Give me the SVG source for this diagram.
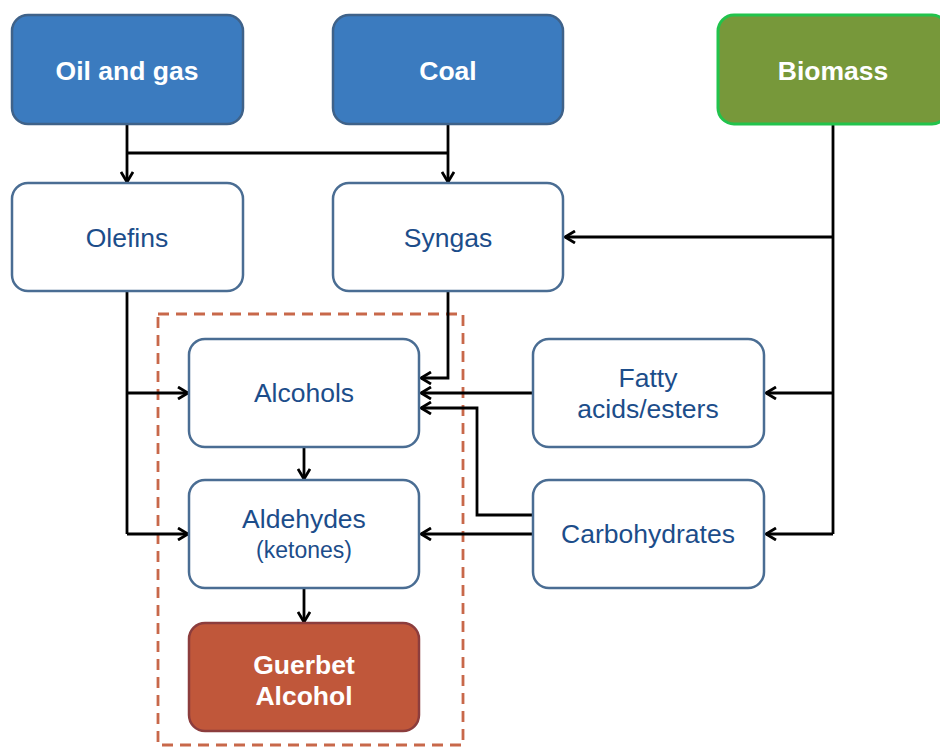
<svg xmlns="http://www.w3.org/2000/svg" width="940" height="749" viewBox="0 0 940 749">
<style>
.box{fill:#fff;stroke:#4a6d93;stroke-width:2.5}
.src{fill:#3b7bbf;stroke:#3f6289;stroke-width:2.5}
.bio{fill:#77983a;stroke:#22c34c;stroke-width:3}
.gue{fill:#c0573a;stroke:#8c3d3d;stroke-width:2.5}
.t{font-family:"Liberation Sans",Arial,sans-serif;font-size:26.5px;fill:#1c4d8a;text-anchor:middle}
.tb{font-family:"Liberation Sans",Arial,sans-serif;font-size:26.5px;font-weight:bold;fill:#fff;text-anchor:middle}
.ts{font-size:23px}
.c{fill:none;stroke:#000;stroke-width:2.8}
.a{marker-end:url(#arr)}
</style>
<defs>
<marker id="arr" viewBox="0 0 12 14" refX="11" refY="7" markerWidth="12" markerHeight="14" markerUnits="userSpaceOnUse" orient="auto">
<path d="M1,1 L11,7 L1,13" fill="none" stroke="#000" stroke-width="2.8"/>
</marker>
</defs>
<rect x="158" y="314" width="305" height="431" fill="none" stroke="#c8684a" stroke-width="2.8" stroke-dasharray="11,7"/>
<g id="connectors">
<path class="c a" d="M127,124 V182"/>
<path class="c" d="M127,153 H448"/>
<path class="c a" d="M448,124 V182"/>
<path class="c" d="M833,124 V534"/>
<path class="c a" d="M833,237 H565"/>
<path class="c a" d="M833,393 H766"/>
<path class="c a" d="M833,534 H766"/>
<path class="c" d="M127,291 V534"/>
<path class="c a" d="M127,393 H188"/>
<path class="c a" d="M127,534 H188"/>
<path class="c a" d="M448,291 V378 H421"/>
<path class="c a" d="M533,393 H421"/>
<path class="c a" d="M533,515 H477 V408 H421"/>
<path class="c a" d="M533,534 H421"/>
<path class="c a" d="M304,447 V479"/>
<path class="c a" d="M304,588 V622"/>
</g>
<g id="oil"><rect class="src" x="12" y="15" width="231" height="109" rx="16"/><text class="tb" x="127" y="80">Oil and gas</text></g>
<g id="coal"><rect class="src" x="333" y="15" width="230" height="109" rx="16"/><text class="tb" x="448" y="80">Coal</text></g>
<g id="biomass"><rect class="bio" x="718" y="15" width="230" height="109" rx="16"/><text class="tb" x="833" y="80">Biomass</text></g>
<g id="olefins"><rect class="box" x="12" y="183" width="231" height="108" rx="16"/><text class="t" x="127" y="247">Olefins</text></g>
<g id="syngas"><rect class="box" x="333" y="183" width="230" height="108" rx="16"/><text class="t" x="448" y="247">Syngas</text></g>
<g id="alcohols"><rect class="box" x="189" y="339" width="230" height="108" rx="16"/><text class="t" x="304" y="402">Alcohols</text></g>
<g id="aldehydes"><rect class="box" x="189" y="480" width="230" height="108" rx="16"/><text class="t" x="304" y="528">Aldehydes</text><text class="t ts" x="304" y="558">(ketones)</text></g>
<g id="guerbet"><rect class="gue" x="189" y="623" width="230" height="108" rx="16"/><text class="tb" x="304" y="674">Guerbet</text><text class="tb" x="304" y="705">Alcohol</text></g>
<g id="fatty"><rect class="box" x="533" y="339" width="231" height="108" rx="16"/><text class="t" x="648" y="387">Fatty</text><text class="t" x="648" y="418">acids/esters</text></g>
<g id="carbs"><rect class="box" x="533" y="480" width="231" height="108" rx="16"/><text class="t" x="648" y="543">Carbohydrates</text></g>
</svg>
